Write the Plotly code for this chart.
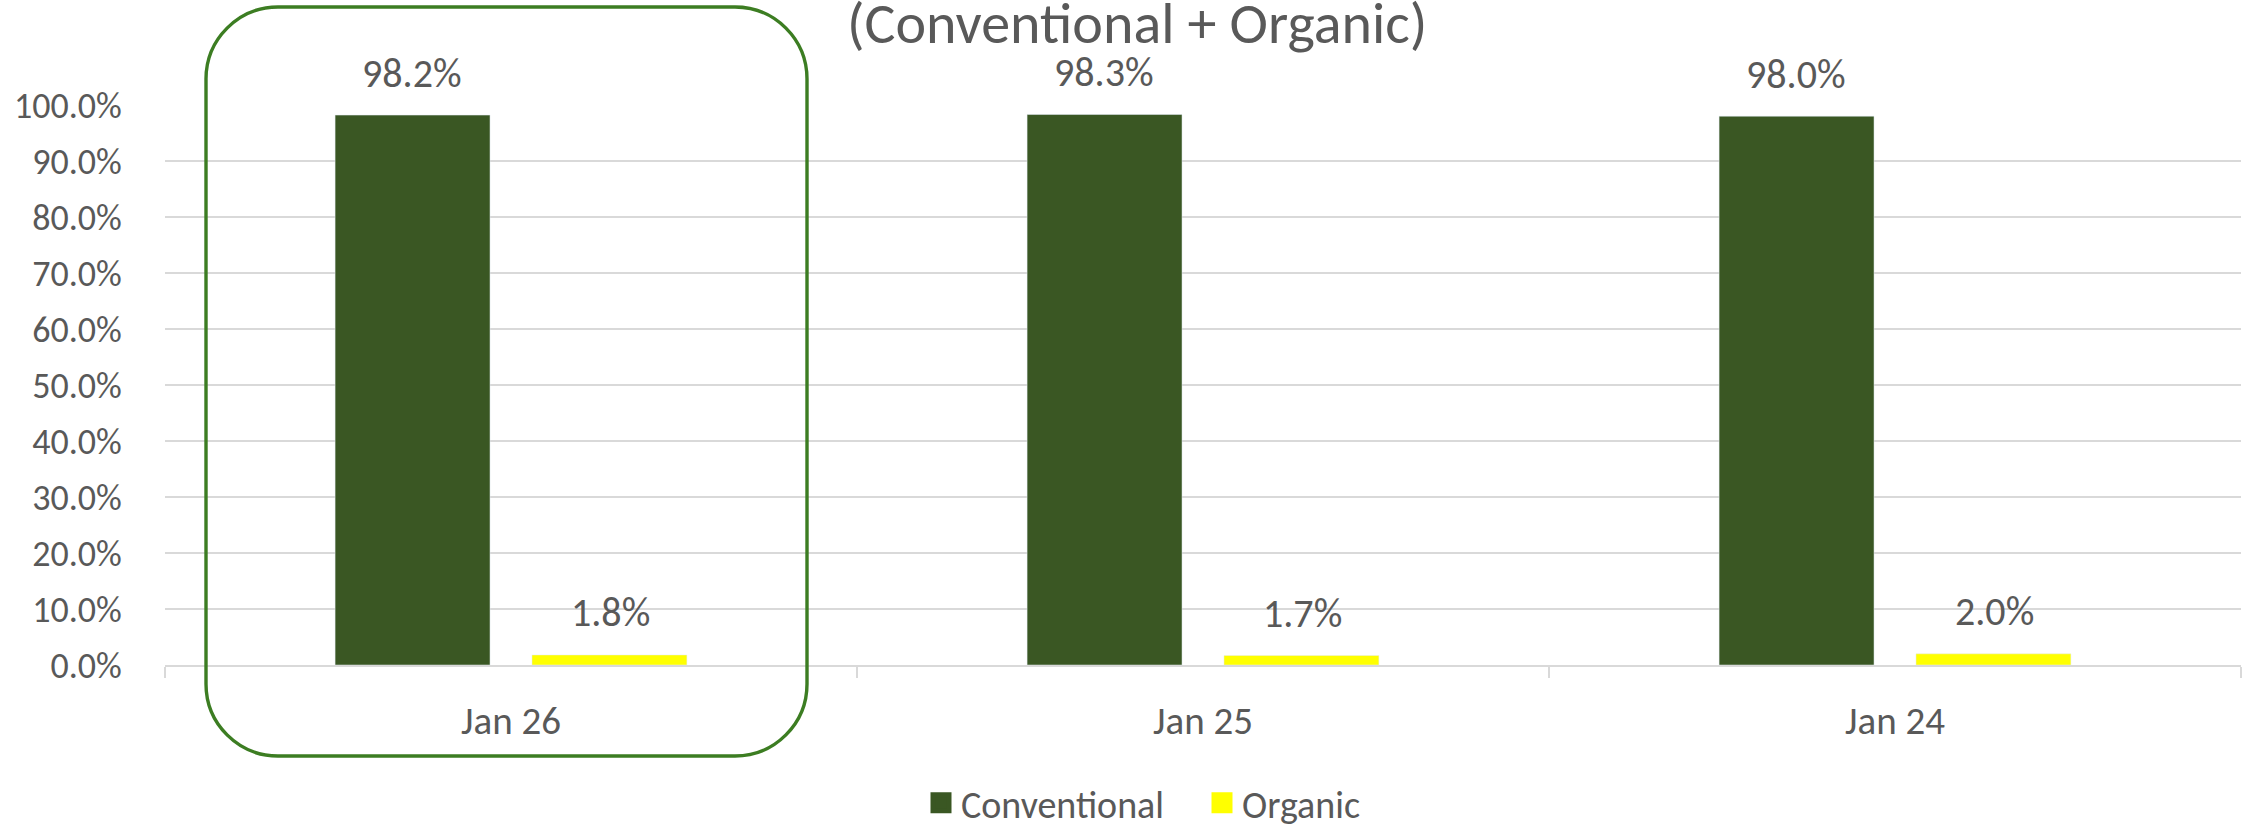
import plotly.graph_objects as go

categories = ["Jan 26", "Jan 25", "Jan 24"]
conventional = [0.982, 0.983, 0.980]
organic = [0.018, 0.017, 0.020]
series_names = ["Conventional", "Organic"]
title_text = "(Conventional + Organic)"

W, H = 2257, 824
ML, MR, MT, MB = 165, 16, 105, 159
PW, PH = W - ML - MR, H - MT - MB

FONT = "Calibri, Carlito, Lato, sans-serif"
TXT = "#595959"
C_CONV = "#3A5723"
C_ORG = "#FFFF00"
GRID = "#D9D9D9"


def px_x(p):
    return (p - ML) / PW


def px_y(p):
    return (H - MB - p) / PH


fig = go.Figure()
fig.add_trace(go.Bar(x=categories, y=conventional, name=series_names[0],
                     marker=dict(color=C_CONV), showlegend=False))
fig.add_trace(go.Bar(x=categories, y=organic, name=series_names[1],
                     marker=dict(color=C_ORG), showlegend=False))
# legend entries with bigger square symbols
for nm, col in zip(series_names, [C_CONV, C_ORG]):
    fig.add_trace(go.Scatter(x=[None], y=[None], mode="markers", name=nm,
                             marker=dict(symbol="square", size=16, color=col,
                                         line=dict(color=col, width=5))))

# data labels
for vals, shift in [(conventional, -99), (organic, 99)]:
    for c, v in zip(categories, vals):
        fig.add_annotation(x=c, y=v, xref="x", yref="y", text=f"{v*100:.1f}%",
                           showarrow=False, xshift=shift, yshift=42,
                           yanchor="middle",
                           font=dict(family=FONT, size=40, color=TXT))

# title (second line, partly cut at top)
fig.add_annotation(xref="paper", yref="paper", x=px_x(1137), y=px_y(23),
                   text=title_text, showarrow=False, yanchor="middle",
                   font=dict(family=FONT, size=58, color=TXT))

# rounded highlight rectangle (pixel geometry -> paper units)
x0, x1, y0, y1, r = 206, 807, 7, 756, 72
k = 0.5523 * r
pts = [
    f"M {px_x(x0 + r)},{px_y(y0)}",
    f"L {px_x(x1 - r)},{px_y(y0)}",
    f"C {px_x(x1 - r + k)},{px_y(y0)} {px_x(x1)},{px_y(y0 + r - k)} {px_x(x1)},{px_y(y0 + r)}",
    f"L {px_x(x1)},{px_y(y1 - r)}",
    f"C {px_x(x1)},{px_y(y1 - r + k)} {px_x(x1 - r + k)},{px_y(y1)} {px_x(x1 - r)},{px_y(y1)}",
    f"L {px_x(x0 + r)},{px_y(y1)}",
    f"C {px_x(x0 + r - k)},{px_y(y1)} {px_x(x0)},{px_y(y1 - r + k)} {px_x(x0)},{px_y(y1 - r)}",
    f"L {px_x(x0)},{px_y(y0 + r)}",
    f"C {px_x(x0)},{px_y(y0 + r - k)} {px_x(x0 + r - k)},{px_y(y0)} {px_x(x0 + r)},{px_y(y0)}",
    "Z",
]
fig.add_shape(type="path", xref="paper", yref="paper", path=" ".join(pts),
              line=dict(color="#3C7D22", width=3.4), fillcolor="rgba(0,0,0,0)")

fig.update_layout(
    width=W, height=H, autosize=False,
    margin=dict(l=ML, r=MR, t=MT, b=MB, autoexpand=False),
    paper_bgcolor="white", plot_bgcolor="white",
    barmode="group", bargap=0.431, bargroupgap=0.213,
    font=dict(family=FONT, size=38, color=TXT),
    legend=dict(orientation="h", xanchor="center", yanchor="middle",
                xref="container", yref="container",
                x=1202 / W, y=1 - 803 / H,
                entrywidth=236, entrywidthmode="pixels",
                font=dict(family=FONT, size=38, color=TXT),
                itemsizing="trace", bgcolor="rgba(0,0,0,0)"),
    xaxis=dict(type="category", showgrid=False, showline=True, linecolor=GRID,
               linewidth=2, ticks="outside", tickson="boundaries", ticklen=11,
               tickcolor=GRID, tickwidth=2, ticklabelstandoff=20,
               tickfont=dict(family=FONT, size=39, color=TXT), zeroline=False),
    yaxis=dict(range=[0, 1.0], dtick=0.1, tickformat=".1%", showgrid=True,
               gridcolor=GRID, gridwidth=2, showline=False, zeroline=False,
               ticks="outside", ticklen=35, tickcolor="rgba(0,0,0,0)",
               tickfont=dict(family=FONT, size=36, color=TXT)),
)

fig.write_html("out.html")
